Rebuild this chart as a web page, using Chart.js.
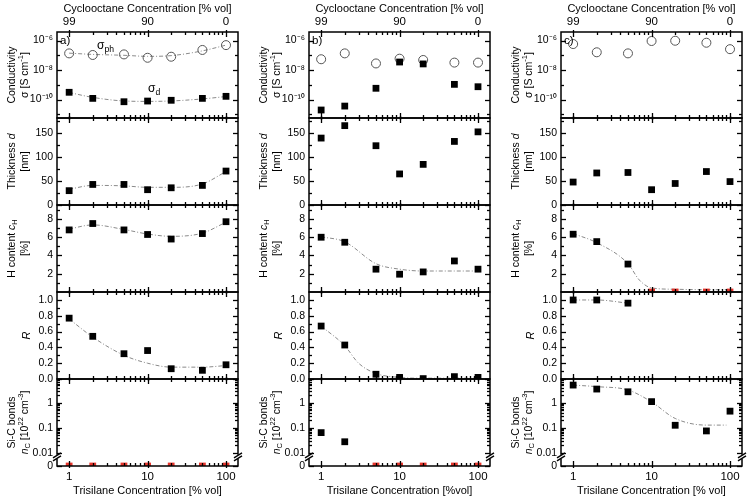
<!DOCTYPE html>
<html><head><meta charset="utf-8">
<script src="https://cdn.jsdelivr.net/npm/chart.js@4.4.1/dist/chart.umd.min.js"></script>
<style>
html,body{margin:0;padding:0;background:#fff;}
#wrap{position:relative;width:748px;height:500px;overflow:hidden;background:#fff;}
#wrap canvas{position:absolute;left:0;top:0;}
</style></head><body><div id="wrap"></div>
<script>
// ================= DATA =================
const trisilane = [1, 2, 5, 10, 20, 50, 100];           // Trisilane concentration [% vol]
const bottomTickValues = [1, 10, 100];
const bottomTickLabels = ['1', '10', '100'];
const topTickValues = [1, 10, 100];                     // positions on trisilane axis
const topTickLabels = ['99', '90', '0'];                // cyclooctane concentration [% vol]
const xMinorTicks = [2, 3, 4, 5, 6, 7, 8, 9, 20, 30, 40, 50, 60, 70, 80, 90];

// ---- column a ----
const a_sigmaPh = [1.35e-7, 1.05e-7, 1.15e-7, 6.8e-8, 8.0e-8, 2.3e-7, 4.9e-7];
const a_sigmaD  = [3.1e-10, 1.2e-10, 7.1e-11, 7.9e-11, 8.9e-11, 1.2e-10, 1.65e-10];
const a_thick   = [30, 43, 43, 32, 36, 41, 71];
const a_H       = [6.8, 7.5, 6.8, 6.3, 5.8, 6.4, 7.7];
const a_R       = [0.77, 0.54, 0.32, 0.36, 0.13, 0.11, 0.18];
const a_SiC     = [0, 0, 0, 0, 0, 0, 0];
const a_fitPh   = [1.4e-7, 1.15e-7, 1.0e-7, 8.5e-8, 9.5e-8, 2.0e-7, 4.9e-7];
const a_fitD    = [3.0e-10, 1.4e-10, 8.0e-11, 7.5e-11, 8.0e-11, 1.1e-10, 1.6e-10];
const a_fitThick= [33, 41, 40, 37, 37, 44, 70];
const a_fitH    = [6.9, 7.35, 6.85, 6.35, 6.1, 6.45, 7.65];
const a_fitR    = [0.76, 0.53, 0.30, 0.20, 0.15, 0.15, 0.17];

// ---- column b ----
const b_sigmaPh = [5.4e-8, 1.35e-7, 2.8e-8, 5.9e-8, 4.8e-8, 3.2e-8, 3.2e-8];
const b_sigmaD  = [1.95e-11, 3.6e-11, 5.8e-10, 3.5e-8, 2.6e-8, 1.07e-9, 7.4e-10];
const b_thick   = [140, 166, 124, 65, 85, 133, 153];
const b_H       = [6.0, 5.45, 2.5, 1.95, 2.2, 3.4, 2.5];
const b_R       = [0.67, 0.43, 0.06, 0.02, 0.005, 0.03, 0.02];
const b_SiC     = [0.065, 0.028, 0, 0, 0, 0, 0];
const b_fitH    = [6.05, 5.5, 3.1, 2.5, 2.3, 2.3, 2.3];
const b_fitR_x  = [1, 2, 3, 5, 10, 20, 50, 100];
const b_fitR    = [0.67, 0.42, 0.2, 0.07, 0.02, 0.01, 0.01, 0.01];

// ---- column c ----
const c_sigmaPh = [5.8e-7, 1.6e-7, 1.35e-7, 9.3e-7, 9.7e-7, 7.1e-7, 2.6e-7];
const c_thick   = [48, 67, 68, 32, 45, 70, 49];
const c_H       = [6.33, 5.52, 3.06, 0, 0, 0, 0];
const c_R       = [1.0, 1.0, 0.96, null, null, null, null];
const c_SiC     = [5.2, 3.6, 2.8, 1.13, 0.128, 0.076, 0.47];
const c_fitH_x  = [1, 2, 5, 7, 10, 20, 50, 100];
const c_fitH    = [6.4, 5.4, 3.1, 1.3, 0.45, 0.3, 0.25, 0.25];
const c_fitR_x  = [1, 2, 5];
const c_fitR    = [1.0, 1.0, 0.96];
const c_fitSiC_x= [1, 2, 5, 10, 20, 50, 90];
const c_fitSiC  = [5.2, 4.5, 3.3, 1.1, 0.24, 0.13, 0.13];

const topTitle = 'Cyclooctane Concentration [% vol]';
const bottomTitles = ['Trisilane Concentration [% vol]', 'Trisilane Concentration [%vol]', 'Trisilane Concentration [% vol]'];
const panelLetters = ['a)', 'b)', 'c)'];

// ================= LAYOUT / STYLE =================
const FAMILY = '"Liberation Sans", Arial, Helvetica, sans-serif';
const W = 748, H = 500;
const colLeft = [57, 309, 561];
const colRight = [238, 490, 742];
const rowTop = [32, 118, 205, 292, 379];
const rowBottom = [118, 205, 292, 379, 466];
const X_MIN = 0.703, X_MAX = 142.2;
const XTICK_FONT = 11.5, YTICK_FONT = 10.5, TITLE_FONT = 11, YTITLE_FONT = 10.5;

const rowSpecs = [
  { type: 'logarithmic', min: 5.6e-12, max: 3.8e-6, zero: null,
    major: [1e-6, 1e-8, 1e-10], labels: ['10\u207B\u2076', '10\u207B\u2078', '10\u207B\u00B9\u2070'],
    minor: [1e-7, 1e-9, 1e-11],
    title: [[{t: 'Conductivity'}], [{t: '\u03C3 [S cm'}, {t: '-1', sup: true}, {t: ']'}]] },
  { type: 'linear', min: 0, max: 182, zero: 0,
    major: [0, 50, 100, 150], labels: ['0', '50', '100', '150'], minor: [25, 75, 125, 175],
    title: [[{t: 'Thickness '}, {t: 'd', i: true}], [{t: '[nm]'}]] },
  { type: 'linear', min: 0, max: 9.53, zero: 0,
    major: [2, 4, 6, 8], labels: ['2', '4', '6', '8'], minor: [1, 3, 5, 7, 9],
    title: [[{t: 'H content '}, {t: 'c', i: true}, {t: 'H', sub: true}], [{t: '[%]'}]] },
  { type: 'linear', min: 0, max: 1.101, zero: 0,
    major: [0, 0.2, 0.4, 0.6, 0.8, 1.0], labels: ['0.0', '0.2', '0.4', '0.6', '0.8', '1.0'],
    minor: [0.1, 0.3, 0.5, 0.7, 0.9],
    title: [[{t: 'R', i: true}]] },
  { type: 'logarithmic', min: 0.003, max: 9.1, zero: 0.003, brk: 0.007,
    major: [0.003, 0.01, 0.1, 1], labels: ['0', '0.01', '0.1', '1'],
    minor: [0.02, 0.03, 0.04, 0.05, 0.06, 0.07, 0.08, 0.09, 0.2, 0.3, 0.4, 0.5, 0.6, 0.7, 0.8, 0.9, 2, 3, 4, 5, 6, 7, 8, 9],
    title: [[{t: 'Si-C bonds'}], [{t: 'n', i: true}, {t: 'C', sub: true}, {t: ' [10'}, {t: '22', sup: true}, {t: ' cm'}, {t: '-3', sup: true}, {t: ']'}]] }
];

const panels = [
  // column a
  [
    { marks: [{x: trisilane, y: a_sigmaD, s: 'sq'}, {x: trisilane, y: a_sigmaPh, s: 'ci'}],
      fits: [{x: trisilane, y: a_fitPh}, {x: trisilane, y: a_fitD}],
      texts: [{segs: [{t: '\u03C3'}, {t: 'ph', sub: true}], dx: 40, dy: 14},
              {segs: [{t: '\u03C3'}, {t: 'd', sub: true}], dx: 91, dy: 57}] },
    { marks: [{x: trisilane, y: a_thick, s: 'sq'}], fits: [{x: trisilane, y: a_fitThick}] },
    { marks: [{x: trisilane, y: a_H, s: 'sq'}], fits: [{x: trisilane, y: a_fitH}] },
    { marks: [{x: trisilane, y: a_R, s: 'sq'}], fits: [{x: trisilane, y: a_fitR}] },
    { marks: [{x: trisilane, y: a_SiC, s: 'sq'}], fits: [] }
  ],
  // column b
  [
    { marks: [{x: trisilane, y: b_sigmaD, s: 'sq'}, {x: trisilane, y: b_sigmaPh, s: 'ci'}], fits: [] },
    { marks: [{x: trisilane, y: b_thick, s: 'sq'}], fits: [] },
    { marks: [{x: trisilane, y: b_H, s: 'sq'}], fits: [{x: trisilane, y: b_fitH}] },
    { marks: [{x: trisilane, y: b_R, s: 'sq'}], fits: [{x: b_fitR_x, y: b_fitR}] },
    { marks: [{x: trisilane, y: b_SiC, s: 'sq'}], fits: [] }
  ],
  // column c
  [
    { marks: [{x: trisilane, y: c_sigmaPh, s: 'ci'}], fits: [] },
    { marks: [{x: trisilane, y: c_thick, s: 'sq'}], fits: [] },
    { marks: [{x: trisilane, y: c_H, s: 'sq'}], fits: [{x: c_fitH_x, y: c_fitH}] },
    { marks: [{x: trisilane, y: c_R, s: 'sq'}], fits: [{x: c_fitR_x, y: c_fitR}] },
    { marks: [{x: trisilane, y: c_SiC, s: 'sq'}], fits: [{x: c_fitSiC_x, y: c_fitSiC}] }
  ]
];

// ================= DRAW HELPERS =================
function drawRich(ctx, segs, x, y, size, rotate, align) {
  ctx.save();
  ctx.translate(x, y);
  if (rotate) ctx.rotate(-Math.PI / 2);
  const parts = segs.map(s => {
    const sz = (s.sub || s.sup) ? size * 0.72 : size;
    const font = (s.i ? 'italic ' : '') + sz + 'px ' + FAMILY;
    ctx.font = font;
    return {s, font, w: ctx.measureText(s.t).width};
  });
  const total = parts.reduce((a, p) => a + p.w, 0);
  let cx = align === 'left' ? 0 : -total / 2;
  ctx.fillStyle = '#000';
  ctx.textBaseline = 'middle';
  ctx.textAlign = 'left';
  parts.forEach(p => {
    ctx.font = p.font;
    const dy = p.s.sub ? size * 0.32 : (p.s.sup ? -size * 0.38 : 0);
    ctx.fillText(p.s.t, cx, dy);
    cx += p.w;
  });
  ctx.restore();
}

function seg(ctx, x1, y1, x2, y2) {
  ctx.beginPath(); ctx.moveTo(x1, y1); ctx.lineTo(x2, y2); ctx.stroke();
}

const framePlugin = {
  id: 'frame',
  afterDraw(chart) {
    const {ctx, chartArea: ca} = chart;
    const p = chart.$panel;
    const r = rowSpecs[p.row];
    const xs = chart.scales.x, ys = chart.scales.y;
    ctx.save();
    ctx.strokeStyle = '#000';
    ctx.lineWidth = 1.3;
    // x ticks (top & bottom)
    bottomTickValues.concat(xMinorTicks).forEach(v => {
      const px = Math.round(xs.getPixelForValue(v)) + 0.5;
      const major = bottomTickValues.indexOf(v) >= 0;
      const li = major ? 5 : 3, lo = major ? 2 : 0;
      seg(ctx, px, ca.top - lo, px, ca.top + li);
      seg(ctx, px, ca.bottom + lo, px, ca.bottom - li);
    });
    // y ticks (left & right)
    r.major.concat(r.minor).forEach(v => {
      const py = Math.round(ys.getPixelForValue(v)) + 0.5;
      if (py < ca.top - 1 || py > ca.bottom + 1) return;
      const major = r.major.indexOf(v) >= 0;
      const li = major ? 5 : 3;
      seg(ctx, ca.left, py, ca.left + li, py);
      seg(ctx, ca.right, py, ca.right - li, py);
    });
    // frame
    ctx.lineWidth = 1.5;
    ctx.strokeRect(ca.left, ca.top, ca.right - ca.left, ca.bottom - ca.top);
    // axis break
    if (r.brk) {
      const by = ys.getPixelForValue(r.brk);
      [ca.left, ca.right].forEach(bx => {
        ctx.fillStyle = '#fff';
        ctx.fillRect(bx - 2, by - 2, 4, 4);
        ctx.lineWidth = 1.4;
        seg(ctx, bx - 4, by + 1, bx + 4, by - 4);
        seg(ctx, bx - 4, by + 4, bx + 4, by - 1);
      });
    }
    // y-axis titles
    const midY = (ca.top + ca.bottom) / 2;
    if (r.title.length === 2) {
      drawRich(ctx, r.title[0], ca.left - 45, midY, YTITLE_FONT, true);
      drawRich(ctx, r.title[1], ca.left - 32, midY, YTITLE_FONT, true);
    } else {
      drawRich(ctx, r.title[0], ca.left - 30, midY, YTITLE_FONT + 0.5, true);
    }
    // panel letter
    if (p.row === 0) {
      drawRich(ctx, [{t: panelLetters[p.col]}], ca.left + 3, ca.top + 9, XTICK_FONT, false, 'left');
    }
    (p.spec.texts || []).forEach(t => drawRich(ctx, t.segs, ca.left + t.dx, ca.top + t.dy, TITLE_FONT + 1, false, 'left'));
    ctx.restore();
  }
};

// ================= BUILD =================
const wrap = document.getElementById('wrap');

function buildPanel(col, row) {
  const spec = panels[col][row];
  const r = rowSpecs[row];
  const cv = document.createElement('canvas');
  cv.width = W; cv.height = H;
  cv.style.width = W + 'px'; cv.style.height = H + 'px';
  wrap.appendChild(cv);

  const datasets = [];
  spec.marks.forEach(m => {
    const black = [], red = [];
    m.y.forEach((v, i) => {
      if (v === null || v === undefined) return;
      if (v === 0) red.push({x: m.x[i], y: r.zero});
      else black.push({x: m.x[i], y: v});
    });
    if (m.s === 'ci') {
      datasets.push({data: black, pointStyle: 'circle', pointRadius: 4.5, borderColor: '#555',
        backgroundColor: 'rgba(0,0,0,0)', borderWidth: 1, showLine: false, order: 2});
    } else {
      datasets.push({data: black, pointStyle: 'rect', pointRadius: 4.8, backgroundColor: '#000',
        borderColor: '#000', borderWidth: 0, showLine: false, order: 1});
      if (red.length) datasets.push({data: red, pointStyle: 'rect', pointRadius: 4.8, backgroundColor: '#e8352c',
        borderColor: '#e8352c', borderWidth: 0, showLine: false, order: 1});
    }
  });
  spec.fits.forEach(f => {
    datasets.push({data: f.x.map((xv, i) => ({x: xv, y: f.y[i]})), showLine: true, pointRadius: 0,
      borderColor: '#8a8a8a', borderWidth: 1, borderDash: [4, 2, 1, 2], tension: 0.4,
      cubicInterpolationMode: 'monotone', fill: false, order: 3});
  });

  const xTickFont = {family: FAMILY, size: XTICK_FONT};
  const yTickFont = {family: FAMILY, size: YTICK_FONT};
  const titleFont = {family: FAMILY, size: TITLE_FONT};
  const scales = {
    x: {
      type: 'logarithmic', position: 'bottom', min: X_MIN, max: X_MAX, display: row === 4,
      grid: {display: false, drawTicks: false}, border: {display: false},
      afterBuildTicks: s => { s.ticks = bottomTickValues.map(v => ({value: v})); },
      ticks: {autoSkip: false, maxRotation: 0, padding: 4, color: '#000', font: xTickFont,
        callback: (v, i) => bottomTickLabels[i]},
      title: {display: true, text: bottomTitles[col], color: '#000', font: titleFont, padding: {top: 0, bottom: 2}}
    },
    y: {
      type: r.type, position: 'left', min: r.min, max: r.max,
      grid: {display: false, drawTicks: false}, border: {display: false},
      afterBuildTicks: s => { s.ticks = r.major.map(v => ({value: v})); },
      ticks: {autoSkip: false, padding: 4, color: '#000', font: yTickFont, callback: (v, i) => r.labels[i]},
      afterFit: s => { s.width = 45; }
    }
  };
  if (row === 4) scales.x.afterFit = s => { s.height = H - rowBottom[row]; };
  if (row === 0) {
    scales.x2 = {
      type: 'logarithmic', position: 'top', min: X_MIN, max: X_MAX, display: true,
      grid: {display: false, drawTicks: false}, border: {display: false},
      afterBuildTicks: s => { s.ticks = topTickValues.map(v => ({value: v})); },
      ticks: {autoSkip: false, maxRotation: 0, padding: 3, color: '#000', font: xTickFont,
        callback: (v, i) => topTickLabels[i]},
      title: {display: true, text: topTitle, color: '#000', font: titleFont, padding: {top: 2, bottom: 0}},
      afterFit: s => { s.height = rowTop[0]; }
    };
  }

  const chart = new Chart(cv, {
    type: 'scatter',
    data: {datasets},
    options: {
      responsive: false, animation: false, devicePixelRatio: 1, events: [],
      plugins: {legend: {display: false}, tooltip: {enabled: false}},
      layout: {autoPadding: false, padding: {
        left: colLeft[col] - 45, right: W - colRight[col],
        top: row === 0 ? 0 : rowTop[row], bottom: row === 4 ? 0 : H - rowBottom[row]}},
      scales
    },
    plugins: [{id: 'panelinfo', beforeInit(c) { c.$panel = {col, row, spec}; }}, framePlugin]
  });
  return chart;
}

for (let c = 0; c < 3; c++) for (let r = 0; r < 5; r++) buildPanel(c, r);
</script>
</body></html>
